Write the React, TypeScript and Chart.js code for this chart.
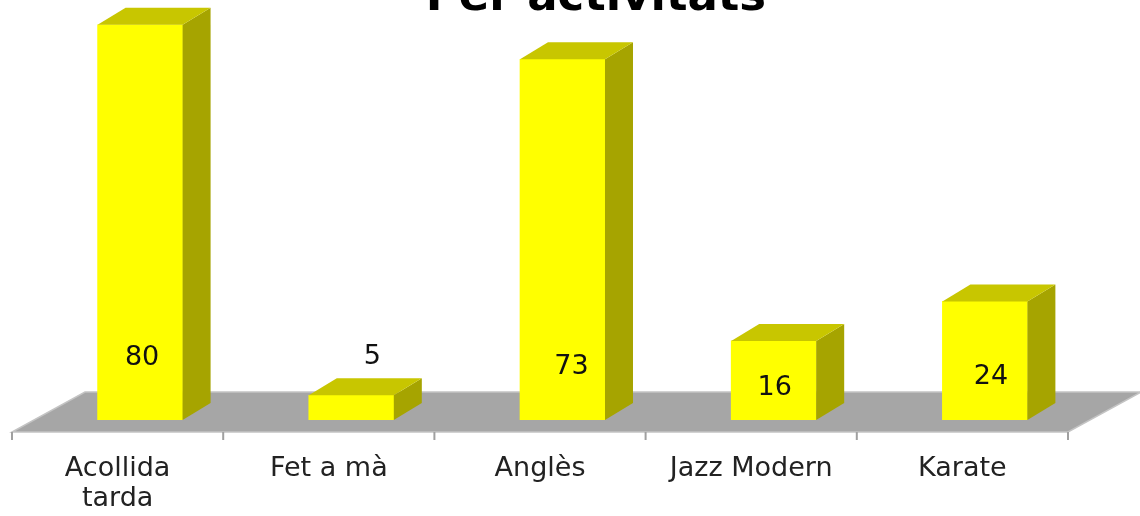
import React, { useEffect, useRef } from "react";
import { Chart, registerables } from "chart.js";

Chart.register(...registerables);

const TITLE = "Per activitats";
const CATEGORY_LABELS: (string | string[])[] = [["Acollida", "tarda"], "Fet a mà", "Anglès", "Jazz Modern", "Karate"];
const VALUES = [80, 5, 73, 16, 24];
const Y_MAX = 84;

const FRONT = "#FFFF00";
const TOP = "#C8C600";
const SIDE = "#A6A400";
const FLOOR = "#A6A6A6";
const FLOOR_EDGE = "#C4C4C4";

const DEPTH_X = 28;
const DEPTH_Y = 17;
const BAR_SHIFT = 0.1065;

// label placement (pixels above bar base / right of front-face centre)
const LABEL_LIFT = [62, 63, 53, 32, 43];
const LABEL_DX = [2, 21, 9, 1, 6];

const threeD = {
  id: "threeD",
  beforeDatasetsDraw(chart: any) {
    const { ctx, chartArea } = chart;
    const { left, right, bottom } = chartArea;
    const fy = bottom + 12;
    const by = bottom - 28;
    const bdx = 73;
    ctx.save();
    ctx.beginPath();
    ctx.moveTo(left, fy);
    ctx.lineTo(right, fy);
    ctx.lineTo(right + bdx, by);
    ctx.lineTo(left + bdx, by);
    ctx.closePath();
    ctx.fillStyle = FLOOR;
    ctx.fill();
    ctx.strokeStyle = FLOOR_EDGE;
    ctx.lineWidth = 1.5;
    ctx.stroke();
    // ticks
    const n = CATEGORY_LABELS.length;
    const w = (right - left) / n;
    ctx.strokeStyle = "#A0A0A0";
    ctx.lineWidth = 2;
    for (let i = 0; i <= n; i++) {
      const x = left + i * w;
      ctx.beginPath();
      ctx.moveTo(x, fy);
      ctx.lineTo(x, fy + 8);
      ctx.stroke();
    }
    ctx.restore();
  },
  afterDatasetsDraw(chart: any) {
    const { ctx } = chart;
    const meta = chart.getDatasetMeta(0);
    ctx.save();
    meta.data.forEach((el: any, i: number) => {
      const { x, y, base, width } = el.getProps(["x", "y", "base", "width"], true);
      const l = x - width / 2;
      const r = x + width / 2;
      // side
      ctx.beginPath();
      ctx.moveTo(r, y);
      ctx.lineTo(r + DEPTH_X, y - DEPTH_Y);
      ctx.lineTo(r + DEPTH_X, base - DEPTH_Y);
      ctx.lineTo(r, base);
      ctx.closePath();
      ctx.fillStyle = SIDE;
      ctx.fill();
      // top
      ctx.beginPath();
      ctx.moveTo(l, y);
      ctx.lineTo(l + DEPTH_X, y - DEPTH_Y);
      ctx.lineTo(r + DEPTH_X, y - DEPTH_Y);
      ctx.lineTo(r, y);
      ctx.closePath();
      ctx.fillStyle = TOP;
      ctx.fill();
      // value label
      ctx.fillStyle = "#111111";
      ctx.font = "27px 'DejaVu Sans'";
      ctx.textAlign = "center";
      ctx.textBaseline = "middle";
      ctx.fillText(String(VALUES[i]), x + LABEL_DX[i], base - LABEL_LIFT[i]);
    });
    ctx.restore();
  },
  afterDraw(chart: any) {
    const { ctx } = chart;
    ctx.save();
    ctx.fillStyle = "#000000";
    ctx.font = "bold 45px 'DejaVu Sans'";
    ctx.textAlign = "center";
    ctx.textBaseline = "alphabetic";
    ctx.fillText(TITLE, 596, 10);
    ctx.restore();
  },
};

export default function App() {
  const ref = useRef<HTMLCanvasElement>(null);
  useEffect(() => {
    if (!ref.current) return;
    const chart = new Chart(ref.current, {
      type: "bar",
      data: {
        labels: CATEGORY_LABELS as any,
        datasets: [
          {
            data: VALUES.map((v, i) => ({ x: i, y: v })) as any,
            backgroundColor: FRONT,
            borderWidth: 0,
            barThickness: 85,
          },
        ],
      },
      options: {
        animation: false,
        responsive: false,
        layout: { padding: { top: 5, left: 12, right: 72, bottom: 0 } },
        plugins: { legend: { display: false }, tooltip: { enabled: false }, title: { display: false } },
        scales: {
          x: {
            type: "linear",
            display: false,
            offset: false,
            bounds: "ticks",
            min: -0.5 - BAR_SHIFT,
            max: 4.5 - BAR_SHIFT,
          },
          xl: {
            type: "category",
            position: "bottom",
            offset: true,
            grid: { display: false, drawTicks: false },
            border: { display: false },
            ticks: {
              padding: 34,
              color: "#222222",
              maxRotation: 0,
              autoSkip: false,
              font: { family: "'DejaVu Sans'", size: 27, lineHeight: 1.1 },
            },
            afterFit(scale: any) {
              scale.height = 96;
            },
          },
          y: { display: false, min: 0, max: Y_MAX },
        },
      },
      plugins: [threeD],
    });
    return () => chart.destroy();
  }, []);
  return (
    <canvas
      ref={ref}
      width={1140}
      height={516}
      style={{ position: "fixed", left: 0, top: 0, display: "block" }}
    />
  );
}
